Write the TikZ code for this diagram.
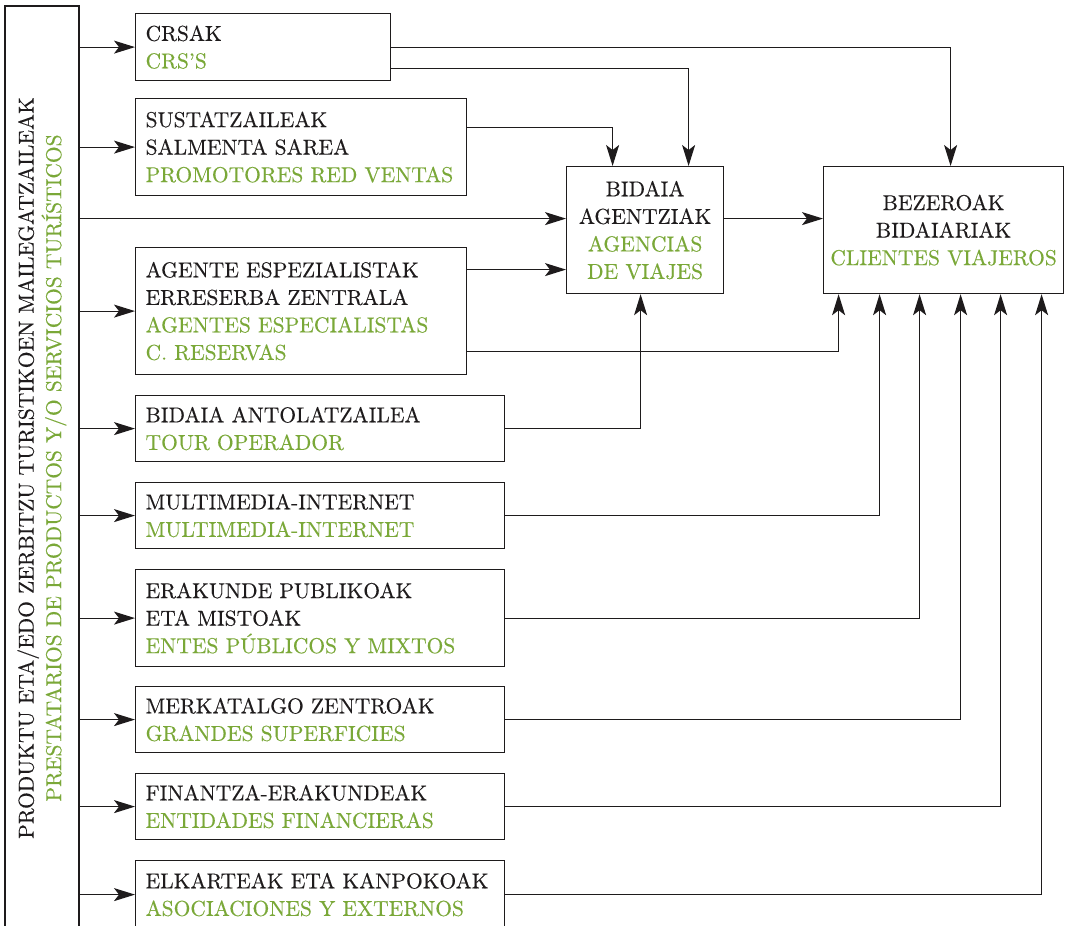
\documentclass[tikz,border=0pt]{standalone}
\usepackage{fontspec}
\setmainfont{lmroman10-regular.otf}[FakeBold=0.3]
\usetikzlibrary{arrows.meta}
\definecolor{verde}{RGB}{122,168,56}
\definecolor{tinta}{RGB}{30,27,28}
\newcommand{\es}[1]{\textcolor{verde}{#1}}

\begin{document}
\begin{tikzpicture}[x=1pt,y=-1pt]
\tikzstyle{every node} = [font=\fontsize{21.5}{27.5}\selectfont, text=tinta]
\tikzstyle{box} = [draw=tinta, line width=1.2, anchor=north west, align=left, inner xsep=10, inner ysep=0]
\tikzstyle{cbox} = [box, align=center, inner xsep=3]
\tikzstyle{arr} = [draw=tinta, line width=1.2, -{Stealth[length=21, width=13, inset=5]}]
\useasboundingbox[fill=white] (0,0) rectangle (1066,926);
% prestatarios
\node[draw=tinta, line width=1.2, rotate=90, minimum width=924, minimum height=74, inner sep=0, align=center] (prov) at (42,468) {PRODUKTU ETA/EDO ZERBITZU TURISTIKOEN MAILEGATZAILEAK\\\es{PRESTATARIOS DE PRODUCTOS Y/O SERVICIOS TURÍSTICOS}};
% canales
\node[box, text width=235, minimum height=67] (crs) at (135,13) {CRSAK\\\es{CRS’S}};
\node[box, text width=311, minimum height=97] (sus) at (135,98) {SUSTATZAILEAK\\SALMENTA SAREA\\\es{PROMOTORES RED VENTAS}};
\node[box, text width=311, minimum height=127] (age) at (135,247) {AGENTE ESPEZIALISTAK\\ERRESERBA ZENTRALA\\\es{AGENTES ESPECIALISTAS}\\\es{C. RESERVAS}};
\node[box, text width=349, minimum height=66] (tour) at (135,395) {BIDAIA ANTOLATZAILEA\\\es{TOUR OPERADOR}};
\node[box, text width=349, minimum height=66] (multi) at (135,482) {MULTIMEDIA-INTERNET\\\es{MULTIMEDIA-INTERNET}};
\node[box, text width=349, minimum height=97] (erak) at (135,569) {ERAKUNDE PUBLIKOAK\\ETA MISTOAK\\\es{ENTES PÚBLICOS Y MIXTOS}};
\node[box, text width=349, minimum height=66] (merk) at (135,686) {MERKATALGO ZENTROAK\\\es{GRANDES SUPERFICIES}};
\node[box, text width=349, minimum height=66] (fin) at (135,773) {FINANTZA-ERAKUNDEAK\\\es{ENTIDADES FINANCIERAS}};
\node[box, text width=349, minimum height=68] (elk) at (135,860) {ELKARTEAK ETA KANPOKOAK\\\es{ASOCIACIONES Y EXTERNOS}};
% destinos
\node[cbox, text width=151, minimum height=127] (bidaia) at (566,166) {BIDAIA\\AGENTZIAK\\\es{AGENCIAS}\\\es{DE VIAJES}};
\node[cbox, text width=234, minimum height=127] (bez) at (823,166) {BEZEROAK\\BIDAIARIAK\\\es{CLIENTES VIAJEROS}};
\coordinate (bw1) at ([yshift=11.5]bidaia.west);
\coordinate (bw2) at ([yshift=-39.5]bidaia.west);
% flechas
\draw[arr] (prov.south |- crs.west) -- (crs.west);
\draw[arr] (prov.south |- sus.west) -- (sus.west);
\draw[arr] (prov.south |- bw1) -- (bw1);
\draw[arr] (prov.south |- age.west) -- (age.west);
\draw[arr] (prov.south |- tour.west) -- (tour.west);
\draw[arr] (prov.south |- multi.west) -- (multi.west);
\draw[arr] (prov.south |- erak.west) -- (erak.west);
\draw[arr] (prov.south |- merk.west) -- (merk.west);
\draw[arr] (prov.south |- fin.west) -- (fin.west);
\draw[arr] (prov.south |- elk.west) -- (elk.west);
\draw[arr] (crs.east) -| ([xshift=7]bez.north);
\draw[arr] ([yshift=-21.5]crs.east) -| ([xshift=43.5]bidaia.north);
\draw[arr] ([yshift=19.5]sus.east) -| ([xshift=-32.5]bidaia.north);
\draw[arr] (age.east |- bw2) -- (bw2);
\draw[arr] ([yshift=-40.5]age.east) -| ([xshift=-105]bez.south);
\draw[arr] (tour.east) -| ([xshift=-4.5]bidaia.south);
\draw[arr] (bidaia.east |- bw1) -- (bez.west |- bw1);
\draw[arr] (multi.east) -| ([xshift=-64]bez.south);
\draw[arr] (erak.east) -| ([xshift=-24]bez.south);
\draw[arr] (merk.east) -| ([xshift=17]bez.south);
\draw[arr] (fin.east) -| ([xshift=57]bez.south);
\draw[arr] (elk.east) -| ([xshift=98]bez.south);
\end{tikzpicture}
\end{document}
